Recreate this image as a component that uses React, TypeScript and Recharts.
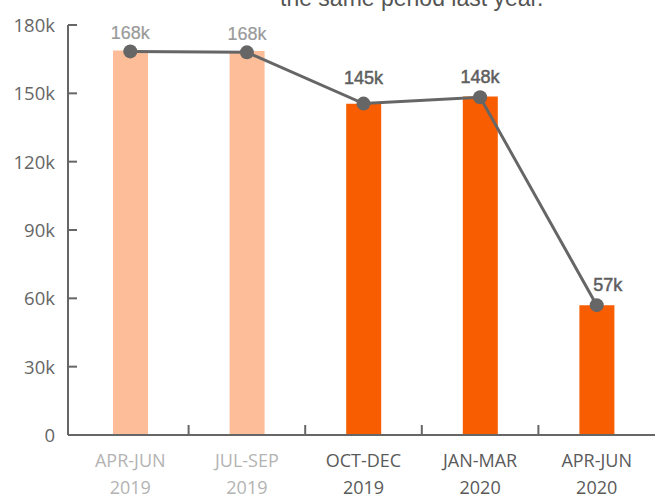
import React from "react";
import { ComposedChart, Bar, Line, XAxis, YAxis, Cell, LabelList } from "recharts";

const periods = ["APR-JUN", "JUL-SEP", "OCT-DEC", "JAN-MAR", "APR-JUN"];
const years = ["2019", "2019", "2019", "2020", "2020"];
const barValues = [168800, 168600, 145400, 148600, 57000];
const lineValues = [168400, 168000, 145500, 148300, 57000];
const valueLabels = ["168k", "168k", "145k", "148k", "57k"];
const isPast = [true, true, false, false, false];
const yTicks = [0, 30000, 60000, 90000, 120000, 150000, 180000];
const subtitle = "the same period last year.";

// annotation offsets (label placement relative to its point)
const labelDy = [-12, -12, -20, -14, -14];
const labelDx = [0, 0, 0, 0, 11];

const data = periods.map((p, i) => ({
  name: `${p} ${years[i]}`,
  period: p,
  year: years[i],
  bar: barValues[i],
  line: lineValues[i],
  label: valueLabels[i],
}));

const AXIS_FONT = "'Open Sans', 'Noto Sans', sans-serif";
const LABEL_FONT = "'Liberation Sans', Arial, sans-serif";
const AXIS = "#666666";

const XTick = (props: any) => {
  const { x, y, payload, index } = props;
  const off = payload && payload.offset ? payload.offset : 0;
  const color = isPast[index] ? "#b3b3b3" : "#5a5a5a";
  return (
    <g>
      {index < periods.length - 1 && (
        <line x1={x + off} x2={x + off} y1={y} y2={y - 10} stroke={AXIS} strokeWidth={2} />
      )}
      <text x={x} y={y + 32} textAnchor="middle" fill={color} fontSize={18} fontFamily={AXIS_FONT}>
        {periods[index]}
      </text>
      <text x={x} y={y + 59} textAnchor="middle" fill={color} fontSize={18} fontFamily={AXIS_FONT}>
        {years[index]}
      </text>
    </g>
  );
};

const YTick = (props: any) => {
  const { x, y, payload } = props;
  const v = payload.value;
  const txt = v === 0 ? "0" : `${v / 1000}k`;
  return (
    <g>
      <line x1={x} x2={x + 9} y1={y} y2={y} stroke={AXIS} strokeWidth={2} />
      <text x={x - 13} y={y + 7} textAnchor="end" fill="#666666" fontSize={18.5} fontFamily={AXIS_FONT}>
        {txt}
      </text>
    </g>
  );
};

const PointLabel = (props: any) => {
  const { x, y, index } = props;
  const color = isPast[index] ? "#9a9a9a" : "#5e5e5e";
  return (
    <text
      x={x + labelDx[index]}
      y={y + labelDy[index]}
      textAnchor="middle"
      fill={color}
      stroke={color}
      strokeWidth={isPast[index] ? 0.2 : 0.5}
      fontSize={18}
      fontFamily={LABEL_FONT}
    >
      {valueLabels[index]}
    </text>
  );
};

export default function App() {
  return (
    <div style={{ position: "absolute", left: 0, top: 0, width: 664, height: 494, background: "#fff" }}>
      <svg width={664} height={30} style={{ position: "absolute", left: 0, top: 0 }}>
        <text x={280} y={6} fill="#555555" fontSize={23} fontFamily={LABEL_FONT}>
          {subtitle}
        </text>
      </svg>
      <div style={{ position: "absolute", left: 0, top: 0 }}>
        <ComposedChart
          width={664}
          height={494}
          data={data}
          margin={{ top: 25, right: 9, bottom: 0, left: 0 }}
        >
          <XAxis
            dataKey="name"
            height={59}
            axisLine={{ stroke: AXIS, strokeWidth: 2 }}
            tickLine={false}
            tickSize={0}
            tickMargin={0}
            tick={<XTick />}
            interval={0}
            padding={{ left: 4, right: 0 }}
          />
          <YAxis
            width={68}
            domain={[0, 180000]}
            ticks={yTicks}
            axisLine={{ stroke: AXIS, strokeWidth: 2 }}
            tickLine={false}
            tickSize={0}
            tickMargin={0}
            tick={<YTick />}
            interval={0}
          />
          <Bar dataKey="bar" barSize={35} isAnimationActive={false}>
            {data.map((d, i) => (
              <Cell key={i} fill={isPast[i] ? "#fdbd98" : "#f95d02"} />
            ))}
          </Bar>
          <Line
            dataKey="line"
            stroke="#666666"
            strokeWidth={3}
            dot={{ r: 7, fill: "#666666", stroke: "#666666", strokeWidth: 0 }}
            activeDot={false}
            isAnimationActive={false}
          >
            <LabelList dataKey="label" content={<PointLabel />} />
          </Line>
        </ComposedChart>
      </div>
    </div>
  );
}
